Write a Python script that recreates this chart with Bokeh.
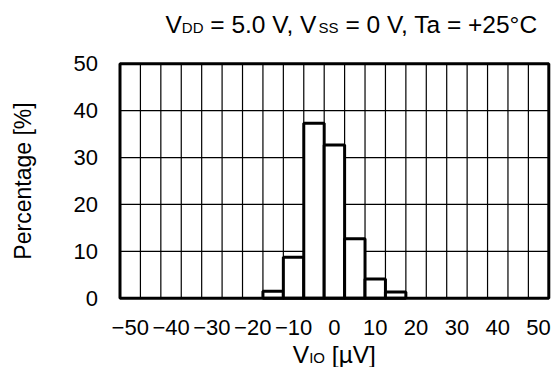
import math
from bokeh.plotting import figure
from bokeh.models import FixedTicker, Label, Range1d, ColumnDataSource
from bokeh.embed import file_html
from bokeh.resources import INLINE

# ---- data ----
bin_centers = [-15, -10, -5, 0, 5, 10, 15]
percentages = [1.5, 8.75, 37.3, 32.7, 12.7, 4.1, 1.3]
bin_width = 5
x_min, x_max = -52.5, 52.5
y_min, y_max = 0, 50
x_ticks = [-50, -40, -30, -20, -10, 0, 10, 20, 30, 40, 50]
x_tick_labels = ["\u221250", "\u221240", "\u221230", "\u221220", "\u221210", "0", "10", "20", "30", "40", "50"]
y_ticks = [0, 10, 20, 30, 40, 50]
x_grid = [-47.5 + 5 * k for k in range(20)]
y_grid = [10, 20, 30, 40]

FONT = "Liberation Sans"
W_PX, H_PX = 554, 367
# pixel box of the data area on the canvas
BOX_L, BOX_R, BOX_T, BOX_B = 119.5, 548.3, 63.3, 297.7

sx = (x_max - x_min) / (BOX_R - BOX_L)
sy = (y_max - y_min) / (BOX_B - BOX_T)
xr = Range1d(x_min - BOX_L * sx, x_max + (W_PX - BOX_R) * sx)
yr = Range1d(y_min - (H_PX - BOX_B) * sy, y_max + BOX_T * sy)

p = figure(width=W_PX, height=H_PX, output_backend="svg", toolbar_location=None,
           x_range=xr, y_range=yr, min_border=0)
p.background_fill_color = "white"
p.border_fill_color = "white"
p.outline_line_color = None
p.xgrid.visible = False
p.ygrid.visible = False

# axes pinned to the data box edges
p.xaxis.fixed_location = y_min
p.yaxis.fixed_location = x_min
p.xaxis.ticker = FixedTicker(ticks=x_ticks)
p.xaxis.major_label_overrides = {t: l for t, l in zip(x_ticks, x_tick_labels)}
p.yaxis.ticker = FixedTicker(ticks=y_ticks)
for ax in (p.xaxis, p.yaxis):
    ax.axis_line_color = None
    ax.major_tick_line_color = None
    ax.minor_tick_line_color = None
    ax.major_tick_out = 0
    ax.major_tick_in = 0
    ax.major_label_text_font = FONT
    ax.major_label_text_font_size = "22px"
    ax.major_label_text_color = "black"
p.xaxis.major_label_standoff = 22
p.yaxis.major_label_standoff = 22

# grid lines inside the data box
p.segment(x0=x_grid, y0=[y_min] * len(x_grid), x1=x_grid, y1=[y_max] * len(x_grid),
          line_color="black", line_width=1.2)
p.segment(x0=[x_min] * len(y_grid), y0=y_grid, x1=[x_max] * len(y_grid), y1=y_grid,
          line_color="black", line_width=1.2)

# bars
src = ColumnDataSource(dict(x=bin_centers, top=percentages))
p.vbar(x="x", top="top", bottom=0, width=bin_width, source=src,
       fill_color="white", line_color="black", line_width=3)

# data box border
p.quad(left=[x_min], right=[x_max], bottom=[y_min], top=[y_max],
       fill_color=None, line_color="black", line_width=3)

# helper for chained text pieces (Liberation Sans advance widths /1000 em)
W = {" ": 278, "=": 584, "5": 556, ".": 278, "0": 556, "V": 667, ",": 278, "T": 611,
     "a": 556, "+": 584, "2": 556, "\u00b0": 400, "C": 722, "D": 722, "S": 667,
     "I": 278, "O": 778, "[": 278, "\u00b5": 576, "]": 278}

def tw(s, size):
    return sum(W.get(c, 556) for c in s) * size / 1000.0

def chain(pieces, x0_px, y_data, anchor_px, baseline_px):
    # place pieces so that they share one alphabetic baseline (screen px from top)
    x = x0_px
    for txt, size in pieces:
        lead = len(txt) - len(txt.lstrip(" "))
        shown = txt.strip(" ")
        mid = baseline_px - 0.3465 * size
        p.add_layout(Label(x=x_min, y=y_data, x_offset=x + tw(" " * lead, size),
                           y_offset=anchor_px - mid,
                           text=shown, text_font=FONT, text_font_size=f"{size}px",
                           text_color="black", text_align="left", text_baseline="middle"))
        x += tw(txt, size)

# title (top right)
title_pieces = [("V", 24.5), ("DD", 15), (" = 5.0 V, V", 24.5), ("SS", 15), (" = 0 V, Ta = +25\u00b0C", 24.5)]
chain(title_pieces, 45.5, y_max, BOX_T, 32)

# x-axis label with subscript
xl_pieces = [("V", 24.5), ("IO", 15), (" [\u00b5V]", 24.5)]
xl_w = sum(tw(t, s) for t, s in xl_pieces)
chain(xl_pieces, (BOX_R - BOX_L) / 2 - xl_w / 2, y_min, BOX_B, 362)

# y-axis label
p.add_layout(Label(x=x_min, y=(y_min + y_max) / 2, x_offset=-97.5, text="Percentage [%]",
                   angle=math.pi / 2, text_font=FONT, text_font_size="23px", text_color="black",
                   text_align="center", text_baseline="middle"))

open("out.html", "w").write(file_html(p, INLINE))
